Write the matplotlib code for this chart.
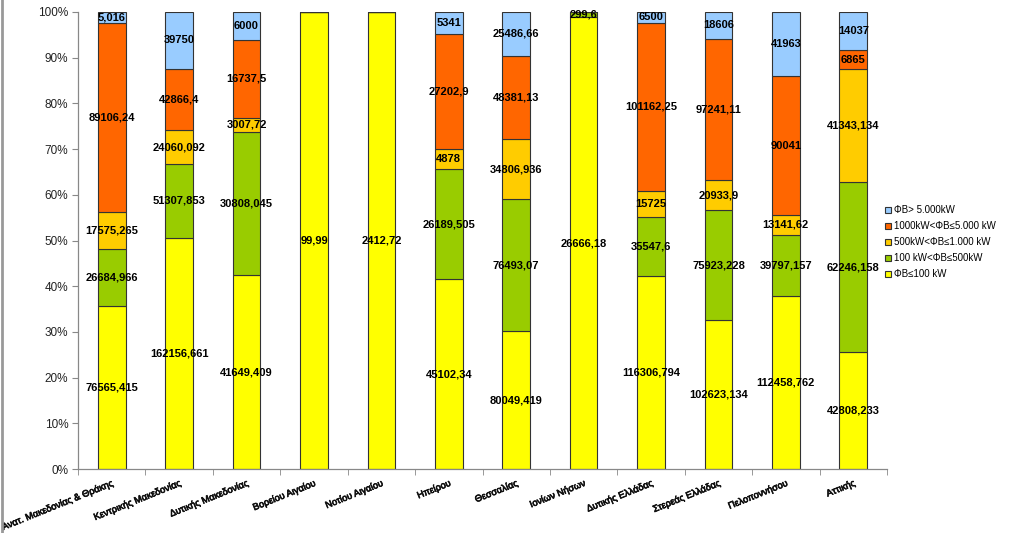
import matplotlib
matplotlib.use("Agg")
import matplotlib.pyplot as plt
import matplotlib.transforms as mtransforms
import matplotlib.patheffects as pe
import numpy as np
from matplotlib.lines import Line2D

plt.rcParams['font.family'] = ['Liberation Sans', 'DejaVu Sans']

regions = ["Ανατ. Μακεδονίας & Θράκης", "Κεντρικής Μακεδονίας", "Δυτικής Μακεδονίας",
           "Βορείου Αιγαίου", "Νοτίου Αιγαίου", "Ηπείρου", "Θεσσαλίας", "Ιονίων Νήσων",
           "Δυτικής Ελλάδας", "Στερεάς Ελλάδας", "Πελοποννήσου", "Αττικής"]

le100 = [76565.415, 162156.661, 41649.409, 99.99, 2412.72, 45102.34, 80049.419, 26666.18,
         116306.794, 102623.134, 112458.762, 42808.233]
s100_500 = [26684.966, 51307.853, 30808.045, 0, 0, 26189.505, 76493.07, 299.6,
            35547.6, 75923.228, 39797.157, 62246.158]
s500_1000 = [17575.265, 24060.092, 3007.72, 0, 0, 4878, 34806.936, 0,
             15725, 20933.9, 13141.62, 41343.134]
s1000_5000 = [89106.24, 42866.4, 16737.5, 0, 0, 27202.9, 48381.13, 0,
              101162.25, 97241.11, 90041, 6865]
gt5000 = [5016, 39750, 6000, 0, 0, 5341, 25486.66, 0,
          6500, 18606, 41963, 14037]

series_names = ["ΦΒ≤100 kW", "100 kW<ΦΒ≤500kW", "500kW<ΦΒ≤1.000 kW",
                "1000kW<ΦΒ≤5.000 kW", "ΦΒ> 5.000kW"]
colors = ["#FFFF00", "#99CC00", "#FFCC00", "#FF6600", "#99CCFF"]
label_overrides = {(4, 0): "5,016"}

data = np.array([le100, s100_500, s500_1000, s1000_5000, gt5000], dtype=float)
totals = data.sum(axis=0)
pct = data / totals * 100

fig = plt.figure(figsize=(10.24, 5.33), dpi=100)
ax = fig.add_axes([0.0762, 0.120, 0.790, 0.8575])

x = np.arange(len(regions))
width = 0.41
bottom = np.zeros(len(regions))
handles = []
for i, (name, col) in enumerate(zip(series_names, colors)):
    bars = ax.bar(x, pct[i], width, bottom=bottom, color=col, edgecolor="#333333",
                  linewidth=0.8, label=name)
    handles.append(bars)
    for j in range(len(regions)):
        v = data[i, j]
        if v <= 0:
            continue
        txt = label_overrides.get((i, j))
        if txt is None:
            s = repr(float(v))
            if s.endswith(".0"):
                s = s[:-2]
            txt = s.replace(".", ",")
        ax.text(x[j], bottom[j] + pct[i, j] / 2, txt, ha="center", va="center",
                fontsize=8, fontweight="bold", color="black")
    bottom += pct[i]

ax.set_xlim(-0.5, len(regions) - 0.5)
ax.set_ylim(0, 100)
ax.set_yticks(np.arange(0, 101, 10))
ax.set_yticklabels([f"{t}%" for t in range(0, 101, 10)], fontsize=8.5, color="#222222")
ax.set_xticks(x)
ax.set_xticklabels(regions, rotation=22, ha="right", rotation_mode="anchor",
                   fontsize=6.8, color="#111111")
offset = mtransforms.ScaledTranslation(4 / 72, 0, fig.dpi_scale_trans)
for lab in ax.get_xticklabels():
    lab.set_transform(lab.get_transform() + offset)
    lab.set_path_effects([pe.withStroke(linewidth=0.5, foreground="#111111")])
ax.set_xticks(np.arange(-0.5, len(regions), 1), minor=True)
ax.tick_params(axis="x", which="major", length=0, pad=7)
ax.tick_params(axis="x", which="minor", length=4, color="#888888")
ax.tick_params(axis="y", length=4, color="#888888", pad=3)
for sp in ["top", "right"]:
    ax.spines[sp].set_visible(False)
for sp in ["left", "bottom"]:
    ax.spines[sp].set_color("#888888")
    ax.spines[sp].set_linewidth(0.9)

leg = fig.legend(handles[::-1], series_names[::-1], loc="upper left",
                 bbox_to_anchor=(0.860, 0.622), frameon=False, fontsize=7,
                 handlelength=0.7, handleheight=0.7, handletextpad=0.3,
                 labelspacing=0.62, borderaxespad=0)

fig.lines.append(Line2D([0.0015, 0.0015], [0, 1], transform=fig.transFigure,
                        color="#999999", linewidth=2))

fig.savefig("out.png", dpi=100)
